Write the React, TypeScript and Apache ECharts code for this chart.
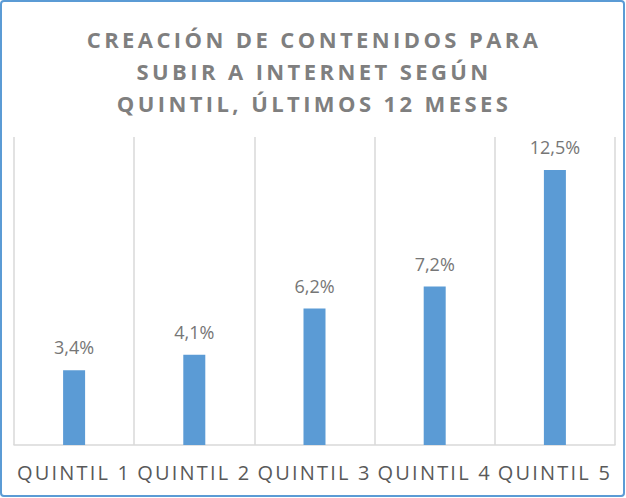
import React, { useEffect, useRef } from "react";
import * as echarts from "echarts";

const categories = ["QUINTIL 1", "QUINTIL 2", "QUINTIL 3", "QUINTIL 4", "QUINTIL 5"];
const values = [3.4, 4.1, 6.2, 7.2, 12.5];
const titleText = "CREACIÓN DE CONTENIDOS PARA\nSUBIR A INTERNET SEGÚN\nQUINTIL, ÚLTIMOS 12 MESES";

const css = `
body { margin: 0; }
.chartbox svg text[fill="#7f7f7f"] { letter-spacing: 3.4px; }
.chartbox svg text[fill="#595959"] { letter-spacing: 2.2px; }
`;

export default function App() {
  const ref = useRef<HTMLDivElement>(null);
  useEffect(() => {
    if (!ref.current) return;
    const chart = echarts.init(ref.current, undefined, { renderer: "svg" });
    chart.setOption({
      animation: false,
      backgroundColor: "#ffffff",
      title: {
        text: titleText,
        left: 314,
        textAlign: "center",
        top: 23,
        padding: 0,
        textStyle: {
          fontFamily: "'Open Sans', sans-serif",
          fontSize: 22,
          fontWeight: "bold",
          lineHeight: 32,
          color: "#7f7f7f",
        },
      },
      graphic: [
        {
          type: "rect",
          shape: { x: 1, y: 1, width: 623, height: 495, r: 3 },
          style: { fill: "none", stroke: "#5b9bd5", lineWidth: 2 },
          silent: true,
        },
      ],
      grid: { left: 14, right: 11, top: 137, bottom: 53 },
      xAxis: {
        type: "category",
        data: categories,
        axisLine: { lineStyle: { color: "#d9d9d9", width: 1.5 } },
        axisTick: { show: false },
        splitLine: { show: true, lineStyle: { color: "#d9d9d9", width: 1.5 } },
        axisLabel: {
          color: "#595959",
          fontFamily: "'Open Sans', sans-serif",
          fontSize: 20,
          margin: 17,
          interval: 0,
        },
      },
      yAxis: {
        type: "value",
        min: 0,
        max: 14,
        show: false,
        splitLine: { show: false },
      },
      series: [
        {
          type: "bar",
          data: values,
          barWidth: 22,
          itemStyle: { color: "#5b9bd5" },
          label: {
            show: true,
            position: "top",
            distance: 14,
            color: "#767676",
            fontFamily: "'Open Sans', sans-serif",
            fontSize: 18,
            formatter: (p: any) => p.value.toFixed(1).replace(".", ",") + "%",
          },
        },
      ],
    });
    return () => chart.dispose();
  }, []);
  return (
    <>
      <style>{css}</style>
      <div
        className="chartbox"
        ref={ref}
        style={{ position: "fixed", left: 0, top: 0, width: 626, height: 498 }}
      />
    </>
  );
}
